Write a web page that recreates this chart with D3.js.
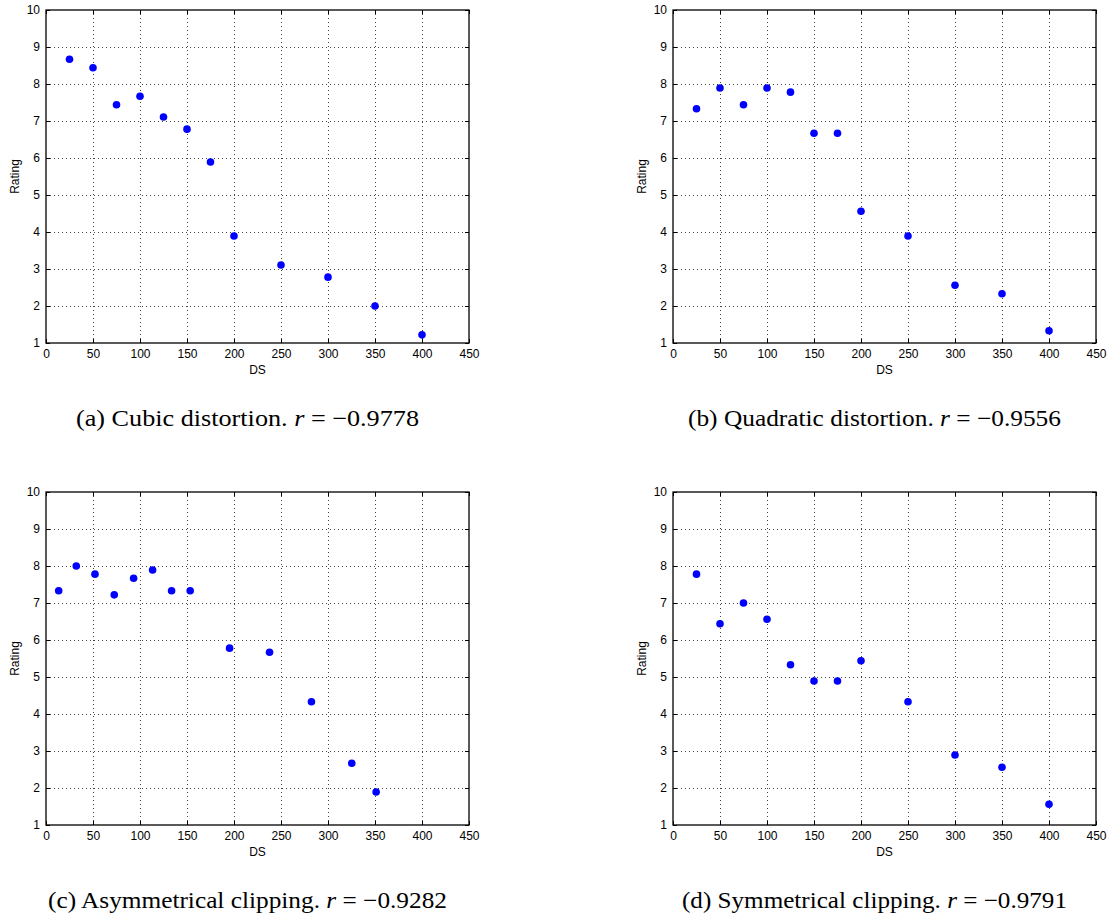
<!DOCTYPE html>
<html>
<head>
<meta charset="utf-8">
<script src="https://cdn.jsdelivr.net/npm/d3@7"></script>
<style>
  body { margin: 0; background: #fff; }
  svg { display: block; }
  .tick text { font-family: "Liberation Sans", Arial, sans-serif; font-size: 12px; fill: #000; }
  .lab { font-family: "Liberation Sans", Arial, sans-serif; font-size: 12px; fill: #000; }
  .cap { font-family: "Liberation Serif", "Times New Roman", serif; font-size: 23.5px; fill: #000; }
</style>
</head>
<body>
<svg id="chart" width="1109" height="921"></svg>
<script>
// ---- Data ----
const xTicks = [0, 50, 100, 150, 200, 250, 300, 350, 400, 450];
const yTicks = [1, 2, 3, 4, 5, 6, 7, 8, 9, 10];

const cubicDS = [25, 50, 75, 100, 125, 150, 175, 200, 250, 300, 350, 400];
const cubicRating = [8.67, 8.44, 7.44, 7.67, 7.11, 6.78, 5.89, 3.89, 3.11, 2.78, 2.00, 1.22];

const quadDS = [25, 50, 75, 100, 125, 150, 175, 200, 250, 300, 350, 400];
const quadRating = [7.33, 7.89, 7.44, 7.89, 7.78, 6.67, 6.67, 4.56, 3.89, 2.56, 2.33, 1.33];

const asymDS = [13.5, 32.2, 52.1, 72.6, 93.2, 113.4, 133.6, 153.4, 195.3, 237.8, 282.4, 325.3, 351.2];
const asymRating = [7.33, 8.00, 7.78, 7.22, 7.67, 7.89, 7.33, 7.33, 5.78, 5.67, 4.33, 2.67, 1.89];

const symDS = [25, 50, 75, 100, 125, 150, 175, 200, 250, 300, 350, 400];
const symRating = [7.78, 6.44, 7.00, 6.56, 5.33, 4.89, 4.89, 5.44, 4.33, 2.89, 2.56, 1.56];

const captionLabels = ["(a) Cubic distortion.", "(b) Quadratic distortion.", "(c) Asymmetrical clipping.", "(d) Symmetrical clipping."];
const rValues = ["\u22120.9778", "\u22120.9556", "\u22120.9282", "\u22120.9791"];

// ---- Layout ----
const panels = [
  { xs: cubicDS, ys: cubicRating, left: 46, top: 10, capW: 343 },
  { xs: quadDS, ys: quadRating, left: 673, top: 10, capW: 373 },
  { xs: asymDS, ys: asymRating, left: 46, top: 492, capW: 399 },
  { xs: symDS, ys: symRating, left: 673, top: 492, capW: 385 }
];

const W = 423, H = 333;
const svg = d3.select("#chart");

panels.forEach((p, i) => {
  const g = svg.append("g").attr("transform", `translate(${p.left},${p.top})`);
  const x = d3.scaleLinear().domain([0, 450]).range([0, W]);
  const y = d3.scaleLinear().domain([1, 10]).range([H, 0]);

  // grid
  const grid = g.append("g");
  grid.selectAll("line.vx").data(xTicks.slice(1, -1)).join("line")
    .attr("x1", d => x(d)).attr("x2", d => x(d)).attr("y1", 0).attr("y2", H)
    .attr("stroke", "#444").attr("stroke-width", 1).attr("stroke-dasharray", "1,3")
    .attr("shape-rendering", "crispEdges");
  grid.selectAll("line.hy").data(yTicks.slice(1, -1)).join("line")
    .attr("y1", d => y(d)).attr("y2", d => y(d)).attr("x1", 0).attr("x2", W)
    .attr("stroke", "#444").attr("stroke-width", 1).attr("stroke-dasharray", "1,3")
    .attr("shape-rendering", "crispEdges");

  // axes (MATLAB style: ticks inside on all four sides)
  const ax = (axis) => axis.tickSizeOuter(0);
  g.append("g").attr("transform", `translate(0,${H})`)
    .call(ax(d3.axisBottom(x).tickValues(xTicks).tickSize(-4).tickPadding(6).tickFormat(d3.format("d"))));
  g.append("g")
    .call(ax(d3.axisTop(x).tickValues(xTicks).tickSize(-4).tickFormat("")));
  g.append("g")
    .call(ax(d3.axisLeft(y).tickValues(yTicks).tickSize(-4).tickPadding(6).tickFormat(d3.format("d"))));
  g.append("g").attr("transform", `translate(${W},0)`)
    .call(ax(d3.axisRight(y).tickValues(yTicks).tickSize(-4).tickFormat("")));
  g.selectAll(".domain").remove();
  g.selectAll(".tick line").attr("stroke", "#000").attr("stroke-width", 1);

  // frame
  g.append("rect").attr("x", 0).attr("y", 0).attr("width", W).attr("height", H)
    .attr("fill", "none").attr("stroke", "#000").attr("stroke-width", 1.3);

  // points
  g.selectAll("circle").data(p.xs.map((d, k) => [d, p.ys[k]])).join("circle")
    .attr("cx", d => x(d[0])).attr("cy", d => y(d[1])).attr("r", 3.8)
    .attr("fill", "#0000ff");

  // axis labels
  g.append("text").attr("class", "lab").attr("x", W / 2).attr("y", H + 31)
    .attr("text-anchor", "middle").text("DS");
  g.append("text").attr("class", "lab")
    .attr("transform", `translate(${-27},${H / 2}) rotate(-90)`)
    .attr("text-anchor", "middle").text("Rating");

  // caption
  const cx = W / 2 - 10;
  const cap = g.append("text").attr("class", "cap")
    .attr("x", cx - p.capW / 2).attr("y", H + 83)
    .attr("text-anchor", "start")
    .attr("textLength", p.capW).attr("lengthAdjust", "spacingAndGlyphs");
  cap.append("tspan").text(captionLabels[i] + " ");
  cap.append("tspan").attr("font-style", "italic").text("r");
  cap.append("tspan").text(" = " + rValues[i]);
});
</script>
</body>
</html>
